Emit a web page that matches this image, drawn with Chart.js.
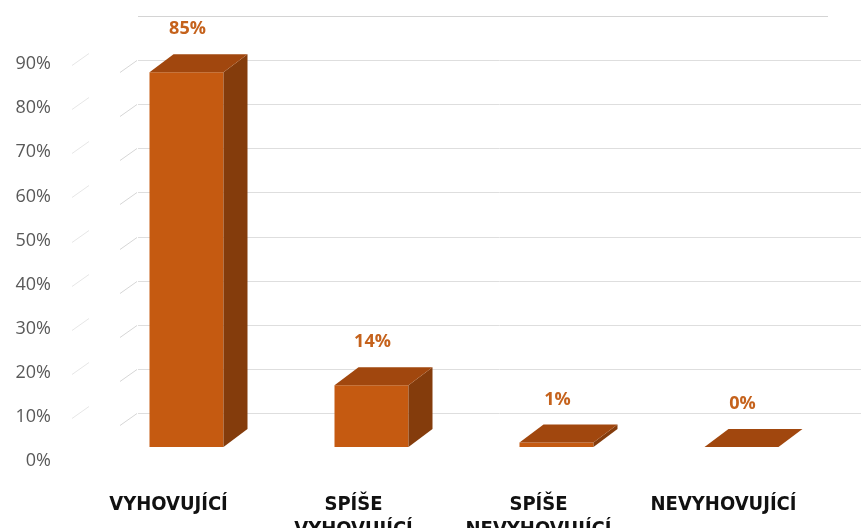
<!DOCTYPE html>
<html>
<head>
<meta charset="utf-8">
<script src="https://cdn.jsdelivr.net/npm/chart.js@4.4.1/dist/chart.umd.min.js"></script>
<style>
  html, body { margin: 0; padding: 0; background: #fff; }
  #wrap { width: 861px; height: 528px; }
</style>
</head>
<body>
<div id="wrap"><canvas id="chart"></canvas></div>
<script>
// Data
const categories = [['VYHOVUJÍCÍ'], ['SPÍŠE', 'VYHOVUJÍCÍ'], ['SPÍŠE', 'NEVYHOVUJÍCÍ'], ['NEVYHOVUJÍCÍ']];
const values = [85, 14, 1, 0];
const yMin = 0;
const yMax = 100;
const yStep = 10;

// Look of the fake 3D bars
const frontColor = '#c55a11';
const topColor = '#a1470e';
const sideColor = '#843c0c';
const depthX = 24;
const depthY = -18;
const frontShift = -10; // front faces sit a little above the back-wall grid

const bar3d = {
  id: 'bar3d',
  beforeDatasetsDraw(chart) {
    const { ctx, scales: { y } } = chart;
    ctx.save();
    ctx.lineWidth = 1;
    for (let v = yMin + yStep; v <= yMax; v += yStep) {
      const py = Math.round(y.getPixelForValue(v)) + 0.5;
      ctx.strokeStyle = v === yMax ? '#d4d4d4' : '#dedede';
      ctx.beginPath();
      ctx.moveTo(138, py);
      ctx.lineTo(v === yMax ? 828 : 861, py);
      ctx.stroke();
      if (v < yMax) {
        // side wall stubs
        ctx.strokeStyle = '#d6d6d6';
        ctx.beginPath();
        ctx.moveTo(120, py + 12);
        ctx.lineTo(137, py);
        ctx.stroke();
        ctx.strokeStyle = '#e6e6e6';
        ctx.beginPath();
        ctx.moveTo(72, py + 5);
        ctx.lineTo(89, py - 7);
        ctx.stroke();
      }
    }
    ctx.restore();
    ctx.save();
    ctx.translate(0, frontShift);
  },
  afterDatasetsDraw(chart) {
    const { ctx } = chart;
    const meta = chart.getDatasetMeta(0);
    meta.data.forEach((bar, i) => {
      const left = bar.x - bar.width / 2;
      const right = bar.x + bar.width / 2;
      const top = Math.min(bar.y, bar.base);
      const bottom = bar.base;
      // side face
      ctx.fillStyle = sideColor;
      ctx.beginPath();
      ctx.moveTo(right, top);
      ctx.lineTo(right + depthX, top + depthY);
      ctx.lineTo(right + depthX, bottom + depthY);
      ctx.lineTo(right, bottom);
      ctx.closePath();
      ctx.fill();
      // top face
      ctx.fillStyle = topColor;
      ctx.beginPath();
      ctx.moveTo(left, top);
      ctx.lineTo(left + depthX, top + depthY);
      ctx.lineTo(right + depthX, top + depthY);
      ctx.lineTo(right, top);
      ctx.closePath();
      ctx.fill();
      // value label
      ctx.fillStyle = '#c5621c';
      ctx.font = 'bold 18px "Open Sans", sans-serif';
      ctx.textAlign = 'center';
      ctx.textBaseline = 'middle';
      ctx.fillText(values[i] + '%', bar.x + 1, top + depthY - 25);
    });
    ctx.restore();
  }
};

new Chart(document.getElementById('chart'), {
  type: 'bar',
  data: {
    labels: categories,
    datasets: [{
      data: values,
      backgroundColor: frontColor,
      borderWidth: 0,
      categoryPercentage: 1,
      barPercentage: 0.4
    }]
  },
  options: {
    responsive: true,
    maintainAspectRatio: false,
    animation: false,
    layout: { padding: { top: 16, right: 27, left: 0, bottom: 0 } },
    plugins: {
      legend: { display: false },
      tooltip: { enabled: false }
    },
    scales: {
      x: {
        grid: { display: false },
        border: { display: false },
        ticks: {
          color: '#111111',
          padding: 27,
          labelOffset: -18,
          maxRotation: 0,
          autoSkip: false,
          font: { family: '"Liberation Sans Narrow", "DejaVu Sans Condensed", sans-serif', size: 20, weight: 'bold', lineHeight: 1.25 }
        },
        afterFit(scale) {
          scale.height = 71;
          scale.paddingLeft = 0;
          scale.paddingRight = 0;
        }
      },
      y: {
        min: yMin,
        max: yMax,
        grid: { display: false },
        border: { display: false },
        ticks: {
          stepSize: yStep,
          padding: 35,
          labelOffset: 4,
          color: '#595959',
          font: { family: '"Open Sans", sans-serif', size: 18 },
          callback: v => (v === yMax ? '' : v + '%')
        },
        afterFit(scale) {
          scale.width = 94;
          scale.paddingTop = 0;
          scale.paddingBottom = 0;
        }
      }
    }
  },
  plugins: [bar3d]
});
</script>
</body>
</html>
